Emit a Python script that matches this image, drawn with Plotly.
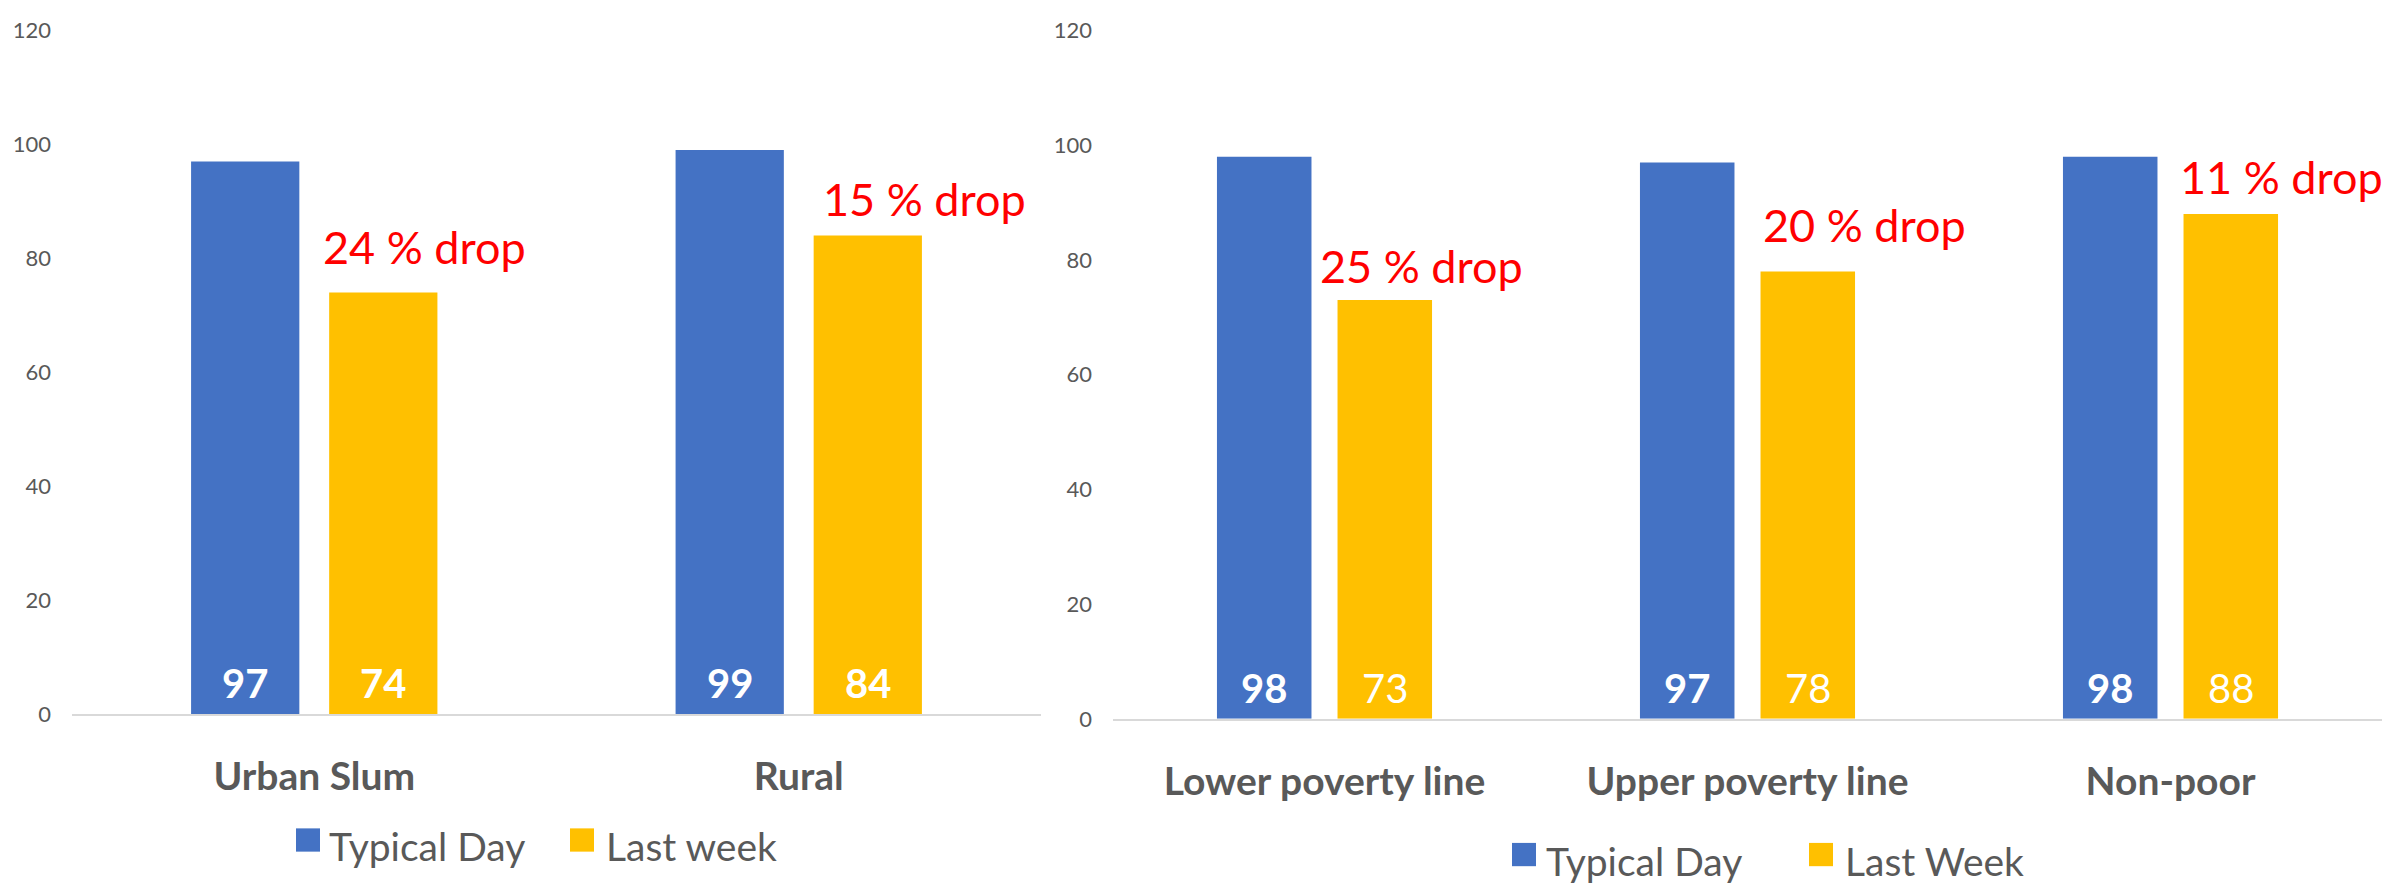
import plotly.graph_objects as go

# ---- data -------------------------------------------------------------
area_categories = ["Urban Slum", "Rural"]
area_typical_day = [97, 99]
area_last_week = [74, 84]
area_drop_labels = ["24 % drop", "15 % drop"]

poverty_categories = ["Lower poverty line", "Upper poverty line", "Non-poor"]
poverty_typical_day = [98, 97, 98]
poverty_last_week = [73, 78, 88]
poverty_drop_labels = ["25 % drop", "20 % drop", "11 % drop"]

y_ticks = [0, 20, 40, 60, 80, 100, 120]

# ---- styling ----------------------------------------------------------
W, H = 2407, 885
BLUE = "#4472C4"
GOLD = "#FFC000"
GREY = "#595959"
AXIS_GREY = "#D9D9D9"
FONT = "Lato"

BAR_GAP = 0.43
GROUP_GAP = 0.216
SLOT = (1 - BAR_GAP) / 2           # width of one bar slot in category units
OFFSET = SLOT / 2                  # bar centre offset from the category centre
GOLD_LEFT = SLOT * GROUP_GAP / 2   # left edge of the second bar


def px_x(p):
    return p / W


def px_y(p):
    return 1 - p / H


fig = go.Figure()

fig.add_trace(go.Bar(x=area_categories, y=area_typical_day, name="Typical Day",
                     marker=dict(color=BLUE, line=dict(width=0)),
                     xaxis="x", yaxis="y", showlegend=False, hoverinfo="x+y"))
fig.add_trace(go.Bar(x=area_categories, y=area_last_week, name="Last week",
                     marker=dict(color=GOLD, line=dict(width=0)),
                     xaxis="x", yaxis="y", showlegend=False, hoverinfo="x+y"))
fig.add_trace(go.Bar(x=poverty_categories, y=poverty_typical_day, name="Typical Day",
                     marker=dict(color=BLUE, line=dict(width=0)),
                     xaxis="x2", yaxis="y2", showlegend=False, hoverinfo="x+y"))
fig.add_trace(go.Bar(x=poverty_categories, y=poverty_last_week, name="Last Week",
                     marker=dict(color=GOLD, line=dict(width=0)),
                     xaxis="x2", yaxis="y2", showlegend=False, hoverinfo="x+y"))

annotations = []


def value_labels(xref, yref, typical, last, gold_bold):
    for i, (a, b) in enumerate(zip(typical, last)):
        annotations.append(dict(
            x=i - OFFSET, y=0, xref=xref, yref=yref, text=f"<b>{a}</b>",
            showarrow=False, yanchor="middle", xanchor="center", yshift=31,
            font=dict(family=FONT, size=40, color="white")))
        annotations.append(dict(
            x=i + OFFSET, y=0, xref=xref, yref=yref,
            text=f"<b>{b}</b>" if gold_bold else str(b),
            showarrow=False, yanchor="middle", xanchor="center", yshift=31,
            font=dict(family=FONT, size=40, color="white")))


value_labels("x", "y", area_typical_day, area_last_week, True)
value_labels("x2", "y2", poverty_typical_day, poverty_last_week, False)


def drop_labels(xref, yref, last, labels, xshifts, yshifts):
    for i, (v, t) in enumerate(zip(last, labels)):
        annotations.append(dict(
            x=i + GOLD_LEFT, y=v, xref=xref, yref=yref, text=t,
            showarrow=False, xanchor="left", yanchor="bottom",
            xshift=xshifts[i], yshift=yshifts[i],
            font=dict(family=FONT, size=45, color="#FF0000")))


drop_labels("x", "y", area_last_week, area_drop_labels, [-8, 7], [16, 8])
drop_labels("x2", "y2", poverty_last_week, poverty_drop_labels, [-20, 0, -6], [5, 17, 8])

# ---- legends (one under each panel) -----------------------------------
shapes = []
legend_rows = [
    # (square left, square top, text left, colour, label)
    (296, 840, 327, BLUE, "Typical Day"),
    (570, 840, 604, GOLD, "Last week"),
    (1512, 855, 1544, BLUE, "Typical Day"),
    (1809, 855, 1843, GOLD, "Last Week"),
]
SQ = 24
for sx, sy, tx, col, label in legend_rows:
    shapes.append(dict(type="rect", xref="paper", yref="paper",
                       x0=px_x(sx), x1=px_x(sx + SQ), y0=px_y(sy + SQ), y1=px_y(sy),
                       fillcolor=col, line=dict(width=0)))
    annotations.append(dict(x=px_x(tx), y=px_y(sy + SQ / 2), xref="paper", yref="paper",
                            text=label, showarrow=False, xanchor="left", yanchor="middle",
                            yshift=-6,
                            font=dict(family=FONT, size=39, color=GREY)))

x_common = dict(type="category", showgrid=False, zeroline=False, showline=True,
                linecolor=AXIS_GREY, linewidth=2, ticks="", ticklabelstandoff=27,
                tickfont=dict(family=FONT, size=39, color=GREY,
                              weight="bold"))
y_common = dict(range=[0, 120], tickvals=y_ticks, showgrid=False, zeroline=False,
                showline=False, ticks="", ticklabelstandoff=20,
                tickfont=dict(family=FONT, size=22, color=GREY))

fig.update_layout(
    width=W, height=H,
    margin=dict(l=0, r=0, t=0, b=0),
    paper_bgcolor="white", plot_bgcolor="white",
    barmode="group", bargap=BAR_GAP, bargroupgap=GROUP_GAP,
    showlegend=False,
    xaxis=dict(domain=[px_x(72), px_x(1041)], anchor="y",
               range=[-0.5, len(area_categories) - 0.5], **x_common),
    yaxis=dict(domain=[px_y(722), px_y(17)], anchor="x", **y_common),
    xaxis2=dict(domain=[px_x(1113), px_x(2382)], anchor="y2",
                range=[-0.5, len(poverty_categories) - 0.5], **x_common),
    yaxis2=dict(domain=[px_y(727), px_y(17)], anchor="x2", **y_common),
    annotations=annotations,
    shapes=shapes,
)

fig.write_html("out.html")
